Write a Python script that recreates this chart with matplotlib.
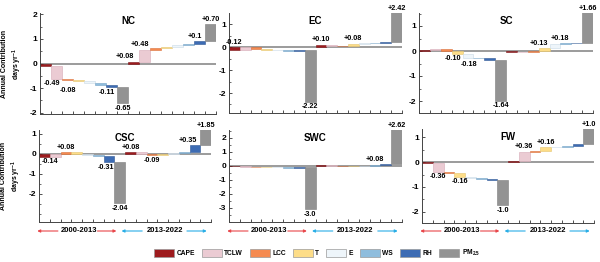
import numpy as np
import matplotlib
matplotlib.use("Agg")
import matplotlib.pyplot as plt
from matplotlib.patches import Patch
from matplotlib.ticker import MultipleLocator, FixedLocator

plt.rcParams['font.family'] = ['Liberation Sans', 'DejaVu Sans']
plt.rcParams['font.weight'] = 'bold'
plt.rcParams['mathtext.fontset'] = 'custom'
plt.rcParams['mathtext.rm'] = 'Liberation Sans:bold'
plt.rcParams['mathtext.bf'] = 'Liberation Sans:bold'
plt.rcParams['mathtext.it'] = 'Liberation Sans:bold'
plt.rcParams['mathtext.default'] = 'bf'

# ---------------- data ----------------
factors = ['CAPE', 'TCLW', 'LCC', 'T', 'E', 'WS', 'RH', 'PM$_{2.5}$']
colors = ['#9E1B1E', '#EBCBD3', '#F58A50', '#FDDD88', '#EEF5FA', '#8FBDDD', '#3D6CB4', '#939393']
edges = ['#7a1416', '#d6aab6', '#d9703a', '#e5c56e', '#c9d9e6', '#74a3c6', '#2f5693', '#7d7d7d']
periods = ['2000-2013', '2013-2022']
regions = ['NC', 'EC', 'SC', 'CSC', 'SWC', 'FW']

nc_p1 = [-0.12, -0.49, -0.08, -0.03, -0.09, -0.05, -0.11, -0.65]
nc_p2 = [0.08, 0.48, 0.07, 0.03, 0.10, 0.04, 0.10, 0.70]
ec_p1 = [-0.12, 0.10, -0.06, -0.05, -0.02, -0.01, 0.01, -2.22]
ec_p2 = [0.10, -0.05, 0.01, 0.08, 0.02, 0.02, 0.02, 2.42]
sc_p1 = [0.04, 0.04, -0.08, -0.10, -0.18, -0.01, -0.05, -1.64]
sc_p2 = [-0.03, -0.01, 0.03, 0.13, 0.18, 0.01, 0.01, 1.66]
csc_p1 = [-0.14, 0.14, 0.08, -0.10, -0.02, -0.07, -0.31, -2.04]
csc_p2 = [0.08, -0.06, -0.09, 0.06, 0.04, 0.07, 0.35, 1.85]
swc_p1 = [-0.03, -0.02, -0.05, 0.06, -0.01, -0.12, 0.09, -3.0]
swc_p2 = [0.04, -0.01, -0.01, -0.05, 0.05, 0.08, 0.04, 2.62]
fw_p1 = [-0.03, -0.36, -0.05, -0.16, -0.03, -0.05, -0.06, -1.0]
fw_p2 = [0.05, 0.36, 0.03, 0.16, 0.02, 0.04, 0.05, 1.0]

nc_labels = {1: '-0.49', 2: '-0.08', 6: '-0.11', 7: '-0.65', 8: '+0.08', 9: '+0.48', 14: '+0.1', 15: '+0.70'}
ec_labels = {0: '-0.12', 7: '-2.22', 8: '+0.10', 11: '+0.08', 15: '+2.42'}
sc_labels = {3: '-0.10', 4: '-0.18', 7: '-1.64', 11: '+0.13', 12: '+0.18', 15: '+1.66'}
csc_labels = {0: '-0.14', 2: '+0.08', 6: '-0.31', 7: '-2.04', 8: '+0.08', 10: '-0.09', 14: '+0.35', 15: '+1.85'}
swc_labels = {7: '-3.0', 13: '+0.08', 15: '+2.62'}
fw_labels = {1: '-0.36', 3: '-0.16', 7: '-1.0', 9: '+0.36', 11: '+0.16', 15: '+1.0'}

region_data = {
    'NC': (nc_p1, nc_p2, nc_labels),
    'EC': (ec_p1, ec_p2, ec_labels),
    'SC': (sc_p1, sc_p2, sc_labels),
    'CSC': (csc_p1, csc_p2, csc_labels),
    'SWC': (swc_p1, swc_p2, swc_labels),
    'FW': (fw_p1, fw_p2, fw_labels),
}

# ---------------- layout (pixels: left, top, right, bottom) ----------------
W, H = 600, 262
layout = {
    'NC': ((40, 13, 216, 114), (-2.05, 2.05), [-2, -1, 0, 1, 2]),
    'EC': ((229, 13, 402, 113), (-2.87, 1.48), [-2, -1, 0, 1]),
    'SC': ((419, 13, 593, 113), (-2.48, 1.52), [-2, -1, 0, 1]),
    'CSC': ((39, 130, 211, 222), (-3.4, 1.2), [-2, -1, 0, 1]),
    'SWC': ((229, 130, 402, 222), (-4.0, 2.57), [-3, -2, -1, 0, 1, 2]),
    'FW': ((422, 129, 594, 223), (-2.45, 1.33), [-2, -1, 0, 1]),
}
above_override = {('EC', 0)}
# label nudges in points (dx, dy)
label_nudge = {
    ('NC', 1): (-3.5, 0), ('NC', 2): (0, -3.5), ('NC', 6): (-3.5, 0),
    ('NC', 8): (-6, 0), ('NC', 9): (-3.5, 0), ('NC', 14): (-3.5, 0),
    ('SC', 3): (-3, 0), ('SC', 4): (1, -1.5), ('SC', 11): (-4, 0), ('SC', 12): (3.5, 0),
    ('CSC', 0): (4, 0), ('CSC', 6): (-2, 0), ('CSC', 14): (-5, 0),
}

fig = plt.figure(figsize=(W / 100, H / 100), dpi=100)

for r in regions:
    (l, t, rr, b), ylim, yt = layout[r]
    ax = fig.add_axes([l / W, 1 - b / H, (rr - l) / W, (b - t) / H])
    p1, p2, labs = region_data[r]
    vals, bots, tops = [], [], []
    for p in (p1, p2):
        cum = 0.0
        for v in p:
            bots.append(cum)
            cum += v
            tops.append(cum)
            vals.append(v)
    x = np.arange(len(vals))
    cols = colors * 2
    eds = edges * 2
    ax.axhline(0, color='#8a8a8a', lw=1.2, zorder=1)
    ax.bar(x, vals, bottom=bots, width=1.0, color=cols, edgecolor=eds, linewidth=0.4, zorder=2)
    ax.set_xlim(-0.5, len(vals) - 0.5)
    ax.set_ylim(*ylim)
    ax.yaxis.set_major_locator(FixedLocator(yt))
    ax.yaxis.set_minor_locator(MultipleLocator(0.5))
    ax.set_yticklabels([str(v) for v in yt])
    ax.xaxis.set_major_locator(FixedLocator(np.arange(-0.5, len(vals), 1.0)))
    ax.set_xticklabels([])
    ax.tick_params(axis='both', direction='in', length=2.5, width=0.6, colors='#333333', labelcolor='black')
    ax.tick_params(axis='y', which='minor', direction='in', length=1.5, width=0.5, colors='#333333')
    ax.tick_params(axis='y', labelsize=6, pad=2)
    for s in ('top', 'right'):
        ax.spines[s].set_visible(False)
    for s in ('left', 'bottom'):
        ax.spines[s].set_linewidth(0.7)
        ax.spines[s].set_color('#444444')
    ax.text(0.5, 0.97, r, transform=ax.transAxes, ha='center', va='top', fontsize=7, fontweight='bold')

    ytop = ylim[1]
    for i, txt in labs.items():
        v = vals[i]
        hi = max(bots[i], tops[i])
        lo = min(bots[i], tops[i])
        dx, dy = label_nudge.get((r, i), (0, 0))
        if v > 0 or (r, i) in above_override:
            y = min(hi, ytop) if v > 0 else 0
            ax.annotate(txt, (x[i], y), xytext=(dx, 1 + dy), textcoords='offset points',
                        ha='center', va='bottom', fontsize=5.2, fontweight='bold',
                        annotation_clip=False)
        else:
            ax.annotate(txt, (x[i], lo), xytext=(dx, -1 + dy), textcoords='offset points',
                        ha='center', va='top', fontsize=5.2, fontweight='bold',
                        annotation_clip=False)

    if r in ('NC', 'CSC'):
        ax.set_ylabel('Annual Contribution\ndays yr$^{-1}$', fontsize=5, fontweight='bold',
                      labelpad=4, linespacing=1.3)

    if r in ('CSC', 'SWC', 'FW'):
        yA = -(231 - b) / (b - t)
        red, blue = '#E8474B', '#29AEE6'
        ap = dict(arrowstyle='-|>', lw=0.8, mutation_scale=4, shrinkA=0, shrinkB=0)
        for (xs, xe, c) in [(0.11, -0.01, red), (0.34, 0.45, red), (0.60, 0.48, blue), (0.86, 0.975, blue)]:
            ax.annotate('', xy=(xe, yA), xytext=(xs, yA), xycoords='axes fraction',
                        arrowprops=dict(ap, color=c), annotation_clip=False)
        ax.text(0.23, yA, periods[0], transform=ax.transAxes, ha='center', va='center',
                fontsize=5.5, fontweight='bold')
        ax.text(0.73, yA, periods[1], transform=ax.transAxes, ha='center', va='center',
                fontsize=5.5, fontweight='bold')

handles = [Patch(facecolor=c, edgecolor='#9a9a9a', linewidth=0.5) for c in colors]
fig.legend(handles, factors, loc='center', bbox_to_anchor=(0.528, 1 - 253 / H), ncol=8,
           frameon=False, prop=dict(size=4.8, weight='bold'), handlelength=3.0,
           handleheight=1.5, handletextpad=0.4, columnspacing=1.0)

fig.savefig('out.png', dpi=100)
